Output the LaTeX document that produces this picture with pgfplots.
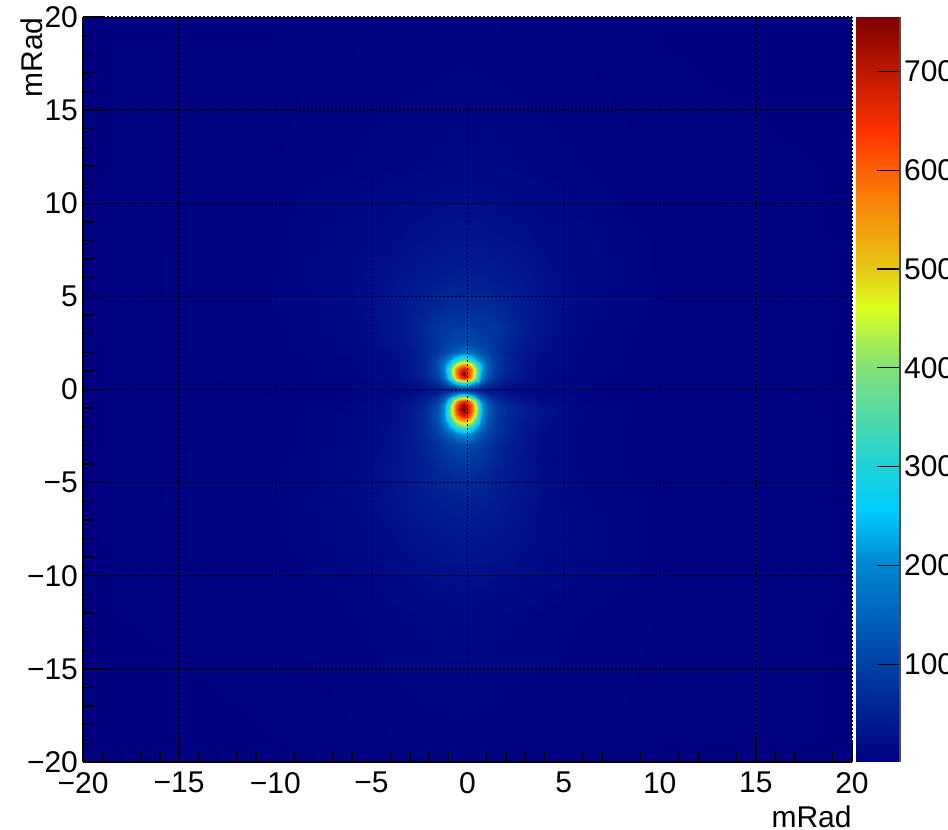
\documentclass[border=0pt]{standalone}
\usepackage{pgfplots}
\pgfplotsset{compat=1.18}
\usepackage{fontspec}
\setmainfont{Liberation Sans}
\pgfplotsset{
  colormap={rootmap}{
    rgb255(0pt)=(0,0,128) rgb255(100pt)=(0,65,165) rgb255(200pt)=(0,135,210)
    rgb255(255pt)=(0,205,255) rgb255(300pt)=(30,210,215) rgb255(400pt)=(130,225,120)
    rgb255(460pt)=(220,255,30) rgb255(500pt)=(230,200,20) rgb255(570pt)=(250,130,10)
    rgb255(640pt)=(255,50,0) rgb255(755pt)=(128,0,0)
  }
}
\newcommand{\tickfont}{\fontsize{15}{18}\selectfont}
\begin{document}
\begin{tikzpicture}
\clip (0,0) rectangle (474pt,415pt);
\begin{axis}[
  at={(41.5pt,34pt)}, anchor=south west,
  scale only axis, width=384.5pt, height=372.5pt,
  xmin=-20, xmax=20, ymin=-20, ymax=20,
  axis on top,
  axis x line*=bottom, axis y line*=left,
  axis line style={-, line width=0.7pt, black},
  xtick={-20,-15,...,20}, ytick={-20,-15,...,20},
  xticklabels={−20,−15,−10,−5,0,5,10,15,20},
  yticklabels={−20,−15,−10,−5,0,5,10,15,20},
  minor tick num=4,
  tick align=inside,
  major tick length=11pt, minor tick length=5.5pt,
  tick style={black, line width=0.7pt},
  grid=major,
  major grid style={black, line width=0.7pt, dash pattern=on 0.8pt off 1.2pt},
  tick label style={font=\tickfont},
  xticklabel style={yshift=-1.5pt},
  yticklabel style={xshift=1pt},
  xlabel={mRad}, ylabel={mRad},
  every axis x label/.style={at={(axis description cs:1,0)}, anchor=base east, yshift=-33pt, inner sep=0pt, font=\tickfont},
  every axis y label/.style={at={(axis description cs:-0.0533,1)}, rotate=90, anchor=base east, inner sep=0pt, font=\tickfont},
  colormap name=rootmap,
  point meta min=1, point meta max=755,
]
\addplot[surf, shader=interp, mesh/rows=32, point meta=explicit] coordinates {
(-20,-20)[3] (-10,-20)[3] (-6,-20)[4] (-4,-20)[4] (-3,-20)[4] (-2.2,-20)[5] (-1.6,-20)[5] (-1.2,-20)[5] (-0.9,-20)[5] (-0.6,-20)[5] (-0.4,-20)[5] (-0.2,-20)[5] (0,-20)[5] (0.2,-20)[5] (0.4,-20)[5] (0.7,-20)[5] (1,-20)[5] (1.4,-20)[5] (2,-20)[4] (3,-20)[4] (4,-20)[4] (6,-20)[4] (10,-20)[3] (20,-20)[3]
(-20,-12)[3] (-10,-12)[5] (-6,-12)[8] (-4,-12)[11] (-3,-12)[12] (-2.2,-12)[13] (-1.6,-12)[14] (-1.2,-12)[14] (-0.9,-12)[15] (-0.6,-12)[15] (-0.4,-12)[15] (-0.2,-12)[15] (0,-12)[15] (0.2,-12)[15] (0.4,-12)[15] (0.7,-12)[14] (1,-12)[14] (1.4,-12)[13] (2,-12)[12] (3,-12)[11] (4,-12)[10] (6,-12)[8] (10,-12)[5] (20,-12)[3]
(-20,-8)[3] (-10,-8)[7] (-6,-8)[14] (-4,-8)[21] (-3,-8)[26] (-2.2,-8)[29] (-1.6,-8)[31] (-1.2,-8)[32] (-0.9,-8)[33] (-0.6,-8)[34] (-0.4,-8)[35] (-0.2,-8)[36] (0,-8)[36] (0.2,-8)[35] (0.4,-8)[34] (0.7,-8)[33] (1,-8)[32] (1.4,-8)[31] (2,-8)[28] (3,-8)[24] (4,-8)[19] (6,-8)[13] (10,-8)[7] (20,-8)[3]
(-20,-6)[3] (-10,-6)[8] (-6,-6)[17] (-4,-6)[28] (-3,-6)[36] (-2.2,-6)[42] (-1.6,-6)[46] (-1.2,-6)[48] (-0.9,-6)[50] (-0.6,-6)[51] (-0.4,-6)[52] (-0.2,-6)[53] (0,-6)[53] (0.2,-6)[52] (0.4,-6)[51] (0.7,-6)[49] (1,-6)[47] (1.4,-6)[43] (2,-6)[37] (3,-6)[29] (4,-6)[20] (6,-6)[12] (10,-6)[7] (20,-6)[3]
(-20,-4.5)[3] (-10,-4.5)[7] (-6,-4.5)[15] (-4,-4.5)[28] (-3,-4.5)[40] (-2.2,-4.5)[50] (-1.6,-4.5)[58] (-1.2,-4.5)[64] (-0.9,-4.5)[68] (-0.6,-4.5)[70] (-0.4,-4.5)[72] (-0.2,-4.5)[73] (0,-4.5)[73] (0.2,-4.5)[71] (0.4,-4.5)[68] (0.7,-4.5)[65] (1,-4.5)[60] (1.4,-4.5)[52] (2,-4.5)[42] (3,-4.5)[30] (4,-4.5)[20] (6,-4.5)[11] (10,-4.5)[6] (20,-4.5)[3]
(-20,-3.8)[3] (-10,-3.8)[7] (-6,-3.8)[14] (-4,-3.8)[27] (-3,-3.8)[40] (-2.2,-3.8)[54] (-1.6,-3.8)[68] (-1.2,-3.8)[76] (-0.9,-3.8)[82] (-0.6,-3.8)[86] (-0.4,-3.8)[88] (-0.2,-3.8)[90] (0,-3.8)[90] (0.2,-3.8)[87] (0.4,-3.8)[84] (0.7,-3.8)[78] (1,-3.8)[72] (1.4,-3.8)[60] (2,-3.8)[46] (3,-3.8)[31] (4,-3.8)[19] (6,-3.8)[10] (10,-3.8)[6] (20,-3.8)[3]
(-20,-3)[3] (-10,-3)[6] (-6,-3)[13] (-4,-3)[25] (-3,-3)[39] (-2.2,-3)[58] (-1.6,-3)[78] (-1.2,-3)[92] (-0.9,-3)[102] (-0.6,-3)[110] (-0.4,-3)[115] (-0.2,-3)[118] (0,-3)[118] (0.2,-3)[112] (0.4,-3)[105] (0.7,-3)[95] (1,-3)[84] (1.4,-3)[68] (2,-3)[50] (3,-3)[33] (4,-3)[20] (6,-3)[10] (10,-3)[6] (20,-3)[3]
(-20,-2.4)[3] (-10,-2.4)[6] (-6,-2.4)[12] (-4,-2.4)[24] (-3,-2.4)[39] (-2.2,-2.4)[63] (-1.6,-2.4)[94] (-1.2,-2.4)[125] (-0.9,-2.4)[155] (-0.6,-2.4)[190] (-0.4,-2.4)[205] (-0.2,-2.4)[215] (0,-2.4)[210] (0.2,-2.4)[190] (0.4,-2.4)[160] (0.7,-2.4)[130] (1,-2.4)[102] (1.4,-2.4)[80] (2,-2.4)[58] (3,-2.4)[34] (4,-2.4)[20] (6,-2.4)[10] (10,-2.4)[6] (20,-2.4)[3]
(-20,-2)[3] (-10,-2)[6] (-6,-2)[12] (-4,-2)[23] (-3,-2)[39] (-2.2,-2)[68] (-1.6,-2)[108] (-1.2,-2)[165] (-0.9,-2)[230] (-0.6,-2)[310] (-0.4,-2)[350] (-0.2,-2)[370] (0,-2)[350] (0.2,-2)[310] (0.4,-2)[245] (0.7,-2)[170] (1,-2)[122] (1.4,-2)[88] (2,-2)[61] (3,-2)[36] (4,-2)[21] (6,-2)[10] (10,-2)[6] (20,-2)[3]
(-20,-1.65)[3] (-10,-1.65)[6] (-6,-1.65)[12] (-4,-1.65)[22] (-3,-1.65)[39] (-2.2,-1.65)[70] (-1.6,-1.65)[118] (-1.2,-1.65)[195] (-0.9,-1.65)[320] (-0.6,-1.65)[470] (-0.4,-1.65)[530] (-0.2,-1.65)[560] (0,-1.65)[530] (0.2,-1.65)[480] (0.4,-1.65)[370] (0.7,-1.65)[205] (1,-1.65)[135] (1.4,-1.65)[95] (2,-1.65)[64] (3,-1.65)[39] (4,-1.65)[24] (6,-1.65)[11] (10,-1.65)[6] (20,-1.65)[3]
(-20,-1.35)[3] (-10,-1.35)[6] (-6,-1.35)[12] (-4,-1.35)[21] (-3,-1.35)[39] (-2.2,-1.35)[70] (-1.6,-1.35)[122] (-1.2,-1.35)[205] (-0.9,-1.35)[370] (-0.6,-1.35)[580] (-0.4,-1.35)[660] (-0.2,-1.35)[700] (0,-1.35)[660] (0.2,-1.35)[580] (0.4,-1.35)[450] (0.7,-1.35)[230] (1,-1.35)[145] (1.4,-1.35)[100] (2,-1.35)[67] (3,-1.35)[42] (4,-1.35)[25] (6,-1.35)[11] (10,-1.35)[6] (20,-1.35)[3]
(-20,-1.1)[3] (-10,-1.1)[6] (-6,-1.1)[11] (-4,-1.1)[20] (-3,-1.1)[36] (-2.2,-1.1)[68] (-1.6,-1.1)[118] (-1.2,-1.1)[205] (-0.9,-1.1)[385] (-0.6,-1.1)[620] (-0.4,-1.1)[710] (-0.2,-1.1)[755] (0,-1.1)[710] (0.2,-1.1)[620] (0.4,-1.1)[485] (0.7,-1.1)[250] (1,-1.1)[150] (1.4,-1.1)[100] (2,-1.1)[67] (3,-1.1)[45] (4,-1.1)[28] (6,-1.1)[11] (10,-1.1)[6] (20,-1.1)[3]
(-20,-0.85)[3] (-10,-0.85)[6] (-6,-0.85)[11] (-4,-0.85)[18] (-3,-0.85)[33] (-2.2,-0.85)[60] (-1.6,-0.85)[110] (-1.2,-0.85)[190] (-0.9,-0.85)[365] (-0.6,-0.85)[600] (-0.4,-0.85)[700] (-0.2,-0.85)[745] (0,-0.85)[690] (0.2,-0.85)[610] (0.4,-0.85)[475] (0.7,-0.85)[240] (1,-0.85)[143] (1.4,-0.85)[95] (2,-0.85)[63] (3,-0.85)[42] (4,-0.85)[25] (6,-0.85)[11] (10,-0.85)[6] (20,-0.85)[3]
(-20,-0.6)[3] (-10,-0.6)[6] (-6,-0.6)[10] (-4,-0.6)[16] (-3,-0.6)[27] (-2.2,-0.6)[50] (-1.6,-0.6)[90] (-1.2,-0.6)[160] (-0.9,-0.6)[300] (-0.6,-0.6)[525] (-0.4,-0.6)[615] (-0.2,-0.6)[655] (0,-0.6)[625] (0.2,-0.6)[545] (0.4,-0.6)[410] (0.7,-0.6)[195] (1,-0.6)[125] (1.4,-0.6)[82] (2,-0.6)[53] (3,-0.6)[30] (4,-0.6)[20] (6,-0.6)[10] (10,-0.6)[6] (20,-0.6)[3]
(-20,-0.35)[3] (-10,-0.35)[5] (-6,-0.35)[8] (-4,-0.35)[13] (-3,-0.35)[21] (-2.2,-0.35)[37] (-1.6,-0.35)[62] (-1.2,-0.35)[105] (-0.9,-0.35)[170] (-0.6,-0.35)[255] (-0.4,-0.35)[315] (-0.2,-0.35)[350] (0,-0.35)[335] (0.2,-0.35)[275] (0.4,-0.35)[205] (0.7,-0.35)[125] (1,-0.35)[85] (1.4,-0.35)[56] (2,-0.35)[34] (3,-0.35)[20] (4,-0.35)[14] (6,-0.35)[9] (10,-0.35)[5] (20,-0.35)[3]
(-20,-0.15)[3] (-10,-0.15)[4] (-6,-0.15)[8] (-4,-0.15)[12] (-3,-0.15)[17] (-2.2,-0.15)[28] (-1.6,-0.15)[44] (-1.2,-0.15)[65] (-0.9,-0.15)[90] (-0.6,-0.15)[115] (-0.4,-0.15)[130] (-0.2,-0.15)[140] (0,-0.15)[135] (0.2,-0.15)[115] (0.4,-0.15)[95] (0.7,-0.15)[70] (1,-0.15)[52] (1.4,-0.15)[37] (2,-0.15)[25] (3,-0.15)[16] (4,-0.15)[12] (6,-0.15)[8] (10,-0.15)[4] (20,-0.15)[3]
(-20,0)[3] (-10,0)[4] (-6,0)[7] (-4,0)[11] (-3,0)[15] (-2.2,0)[22] (-1.6,0)[32] (-1.2,0)[42] (-0.9,0)[54] (-0.6,0)[68] (-0.4,0)[76] (-0.2,0)[80] (0,0)[78] (0.2,0)[70] (0.4,0)[60] (0.7,0)[46] (1,0)[36] (1.4,0)[27] (2,0)[20] (3,0)[14] (4,0)[11] (6,0)[7] (10,0)[4] (20,0)[3]
(-20,0.15)[3] (-10,0.15)[4] (-6,0.15)[8] (-4,0.15)[12] (-3,0.15)[18] (-2.2,0.15)[30] (-1.6,0.15)[48] (-1.2,0.15)[70] (-0.9,0.15)[100] (-0.6,0.15)[135] (-0.4,0.15)[155] (-0.2,0.15)[170] (0,0.15)[160] (0.2,0.15)[135] (0.4,0.15)[110] (0.7,0.15)[78] (1,0.15)[56] (1.4,0.15)[40] (2,0.15)[26] (3,0.15)[16] (4,0.15)[12] (6,0.15)[8] (10,0.15)[4] (20,0.15)[3]
(-20,0.35)[3] (-10,0.35)[5] (-6,0.35)[8] (-4,0.35)[13] (-3,0.35)[22] (-2.2,0.35)[40] (-1.6,0.35)[68] (-1.2,0.35)[110] (-0.9,0.35)[180] (-0.6,0.35)[265] (-0.4,0.35)[305] (-0.2,0.35)[325] (0,0.35)[305] (0.2,0.35)[265] (0.4,0.35)[205] (0.7,0.35)[125] (1,0.35)[85] (1.4,0.35)[56] (2,0.35)[34] (3,0.35)[20] (4,0.35)[13] (6,0.35)[9] (10,0.35)[5] (20,0.35)[3]
(-20,0.6)[3] (-10,0.6)[6] (-6,0.6)[10] (-4,0.6)[16] (-3,0.6)[28] (-2.2,0.6)[54] (-1.6,0.6)[98] (-1.2,0.6)[160] (-0.9,0.6)[300] (-0.6,0.6)[525] (-0.4,0.6)[625] (-0.2,0.6)[680] (0,0.6)[625] (0.2,0.6)[535] (0.4,0.6)[400] (0.7,0.6)[195] (1,0.6)[120] (1.4,0.6)[80] (2,0.6)[50] (3,0.6)[25] (4,0.6)[16] (6,0.6)[9] (10,0.6)[6] (20,0.6)[3]
(-20,0.85)[3] (-10,0.85)[6] (-6,0.85)[10] (-4,0.85)[18] (-3,0.85)[31] (-2.2,0.85)[60] (-1.6,0.85)[105] (-1.2,0.85)[175] (-0.9,0.85)[335] (-0.6,0.85)[565] (-0.4,0.85)[665] (-0.2,0.85)[750] (0,0.85)[665] (0.2,0.85)[565] (0.4,0.85)[430] (0.7,0.85)[210] (1,0.85)[135] (1.4,0.85)[88] (2,0.85)[56] (3,0.85)[28] (4,0.85)[18] (6,0.85)[10] (10,0.85)[6] (20,0.85)[3]
(-20,1.1)[3] (-10,1.1)[6] (-6,1.1)[10] (-4,1.1)[18] (-3,1.1)[31] (-2.2,1.1)[62] (-1.6,1.1)[112] (-1.2,1.1)[190] (-0.9,1.1)[340] (-0.6,1.1)[565] (-0.4,1.1)[645] (-0.2,1.1)[690] (0,1.1)[645] (0.2,1.1)[575] (0.4,1.1)[450] (0.7,1.1)[250] (1,1.1)[145] (1.4,1.1)[97] (2,1.1)[59] (3,1.1)[29] (4,1.1)[18] (6,1.1)[10] (10,1.1)[6] (20,1.1)[3]
(-20,1.35)[3] (-10,1.35)[6] (-6,1.35)[10] (-4,1.35)[18] (-3,1.35)[32] (-2.2,1.35)[62] (-1.6,1.35)[112] (-1.2,1.35)[180] (-0.9,1.35)[270] (-0.6,1.35)[425] (-0.4,1.35)[495] (-0.2,1.35)[530] (0,1.35)[505] (0.2,1.35)[455] (0.4,1.35)[360] (0.7,1.35)[230] (1,1.35)[150] (1.4,1.35)[100] (2,1.35)[62] (3,1.35)[31] (4,1.35)[18] (6,1.35)[10] (10,1.35)[6] (20,1.35)[3]
(-20,1.65)[3] (-10,1.65)[6] (-6,1.65)[10] (-4,1.65)[20] (-3,1.65)[34] (-2.2,1.65)[60] (-1.6,1.65)[102] (-1.2,1.65)[150] (-0.9,1.65)[205] (-0.6,1.65)[275] (-0.4,1.65)[315] (-0.2,1.65)[335] (0,1.65)[325] (0.2,1.65)[290] (0.4,1.65)[235] (0.7,1.65)[175] (1,1.65)[130] (1.4,1.65)[95] (2,1.65)[59] (3,1.65)[31] (4,1.65)[20] (6,1.65)[10] (10,1.65)[6] (20,1.65)[3]
(-20,2)[3] (-10,2)[6] (-6,2)[12] (-4,2)[22] (-3,2)[36] (-2.2,2)[57] (-1.6,2)[85] (-1.2,2)[105] (-0.9,2)[125] (-0.6,2)[145] (-0.4,2)[160] (-0.2,2)[172] (0,2)[172] (0.2,2)[162] (0.4,2)[140] (0.7,2)[122] (1,2)[106] (1.4,2)[84] (2,2)[56] (3,2)[34] (4,2)[21] (6,2)[10] (10,2)[6] (20,2)[3]
(-20,2.5)[3] (-10,2.5)[7] (-6,2.5)[13] (-4,2.5)[27] (-3,2.5)[42] (-2.2,2.5)[60] (-1.6,2.5)[80] (-1.2,2.5)[92] (-0.9,2.5)[100] (-0.6,2.5)[106] (-0.4,2.5)[110] (-0.2,2.5)[112] (0,2.5)[112] (0.2,2.5)[110] (0.4,2.5)[105] (0.7,2.5)[97] (1,2.5)[92] (1.4,2.5)[82] (2,2.5)[62] (3,2.5)[39] (4,2.5)[25] (6,2.5)[11] (10,2.5)[6] (20,2.5)[3]
(-20,3.2)[3] (-10,3.2)[7] (-6,3.2)[14] (-4,3.2)[30] (-3,3.2)[45] (-2.2,3.2)[65] (-1.6,3.2)[82] (-1.2,3.2)[88] (-0.9,3.2)[92] (-0.6,3.2)[94] (-0.4,3.2)[95] (-0.2,3.2)[96] (0,3.2)[96] (0.2,3.2)[95] (0.4,3.2)[92] (0.7,3.2)[88] (1,3.2)[86] (1.4,3.2)[82] (2,3.2)[70] (3,3.2)[45] (4,3.2)[28] (6,3.2)[12] (10,3.2)[6] (20,3.2)[3]
(-20,4.5)[3] (-10,4.5)[8] (-6,4.5)[16] (-4,4.5)[30] (-3,4.5)[42] (-2.2,4.5)[53] (-1.6,4.5)[61] (-1.2,4.5)[65] (-0.9,4.5)[67] (-0.6,4.5)[68] (-0.4,4.5)[69] (-0.2,4.5)[70] (0,4.5)[70] (0.2,4.5)[69] (0.4,4.5)[68] (0.7,4.5)[67] (1,4.5)[65] (1.4,4.5)[61] (2,4.5)[53] (3,4.5)[41] (4,4.5)[28] (6,4.5)[14] (10,4.5)[7] (20,4.5)[3]
(-20,6)[3] (-10,6)[8] (-6,6)[17] (-4,6)[27] (-3,6)[34] (-2.2,6)[39] (-1.6,6)[43] (-1.2,6)[45] (-0.9,6)[46] (-0.6,6)[47] (-0.4,6)[48] (-0.2,6)[49] (0,6)[49] (0.2,6)[48] (0.4,6)[47] (0.7,6)[46] (1,6)[45] (1.4,6)[43] (2,6)[40] (3,6)[33] (4,6)[26] (6,6)[15] (10,6)[7] (20,6)[3]
(-20,8)[3] (-10,8)[7] (-6,8)[14] (-4,8)[20] (-3,8)[24] (-2.2,8)[26] (-1.6,8)[28] (-1.2,8)[29] (-0.9,8)[30] (-0.6,8)[31] (-0.4,8)[31] (-0.2,8)[32] (0,8)[32] (0.2,8)[31] (0.4,8)[31] (0.7,8)[30] (1,8)[29] (1.4,8)[28] (2,8)[27] (3,8)[24] (4,8)[20] (6,8)[14] (10,8)[7] (20,8)[3]
(-20,12)[3] (-10,12)[5] (-6,12)[8] (-4,12)[10] (-3,12)[11] (-2.2,12)[12] (-1.6,12)[12] (-1.2,12)[13] (-0.9,12)[13] (-0.6,12)[13] (-0.4,12)[14] (-0.2,12)[14] (0,12)[14] (0.2,12)[14] (0.4,12)[13] (0.7,12)[13] (1,12)[13] (1.4,12)[12] (2,12)[12] (3,12)[11] (4,12)[10] (6,12)[8] (10,12)[5] (20,12)[3]
(-20,20)[3] (-10,20)[3] (-6,20)[4] (-4,20)[4] (-3,20)[4] (-2.2,20)[4] (-1.6,20)[5] (-1.2,20)[5] (-0.9,20)[5] (-0.6,20)[5] (-0.4,20)[5] (-0.2,20)[5] (0,20)[5] (0.2,20)[5] (0.4,20)[5] (0.7,20)[5] (1,20)[5] (1.4,20)[5] (2,20)[4] (3,20)[4] (4,20)[4] (6,20)[4] (10,20)[3] (20,20)[3]
};
\end{axis}
\begin{axis}[
  at={(428pt,34pt)}, anchor=south west,
  scale only axis, width=22pt, height=372.5pt,
  xmin=0, xmax=1, ymin=1, ymax=755,
  axis on top,
  axis x line=none,
  axis y line*=right,
  axis line style={-, line width=0.6pt, black!70},
  xtick=\empty,
  ytick={100,200,...,700},
  yticklabels={100,200,300,400,500,600,700},
  minor tick num=0,
  tick align=inside,
  major tick length=11.5pt,
  tick style={black, line width=0.6pt},
  tick label style={font=\tickfont},
  yticklabel style={xshift=-1.5pt},
  colormap name=rootmap,
  point meta min=1, point meta max=755,
]
\addplot[surf, shader=interp, mesh/rows=11, point meta=explicit] coordinates {
(0,1)[1] (1,1)[1]
(0,100)[100] (1,100)[100]
(0,200)[200] (1,200)[200]
(0,255)[255] (1,255)[255]
(0,300)[300] (1,300)[300]
(0,400)[400] (1,400)[400]
(0,460)[460] (1,460)[460]
(0,500)[500] (1,500)[500]
(0,570)[570] (1,570)[570]
(0,640)[640] (1,640)[640]
(0,755)[755] (1,755)[755]
};
\end{axis}
\end{tikzpicture}
\end{document}
